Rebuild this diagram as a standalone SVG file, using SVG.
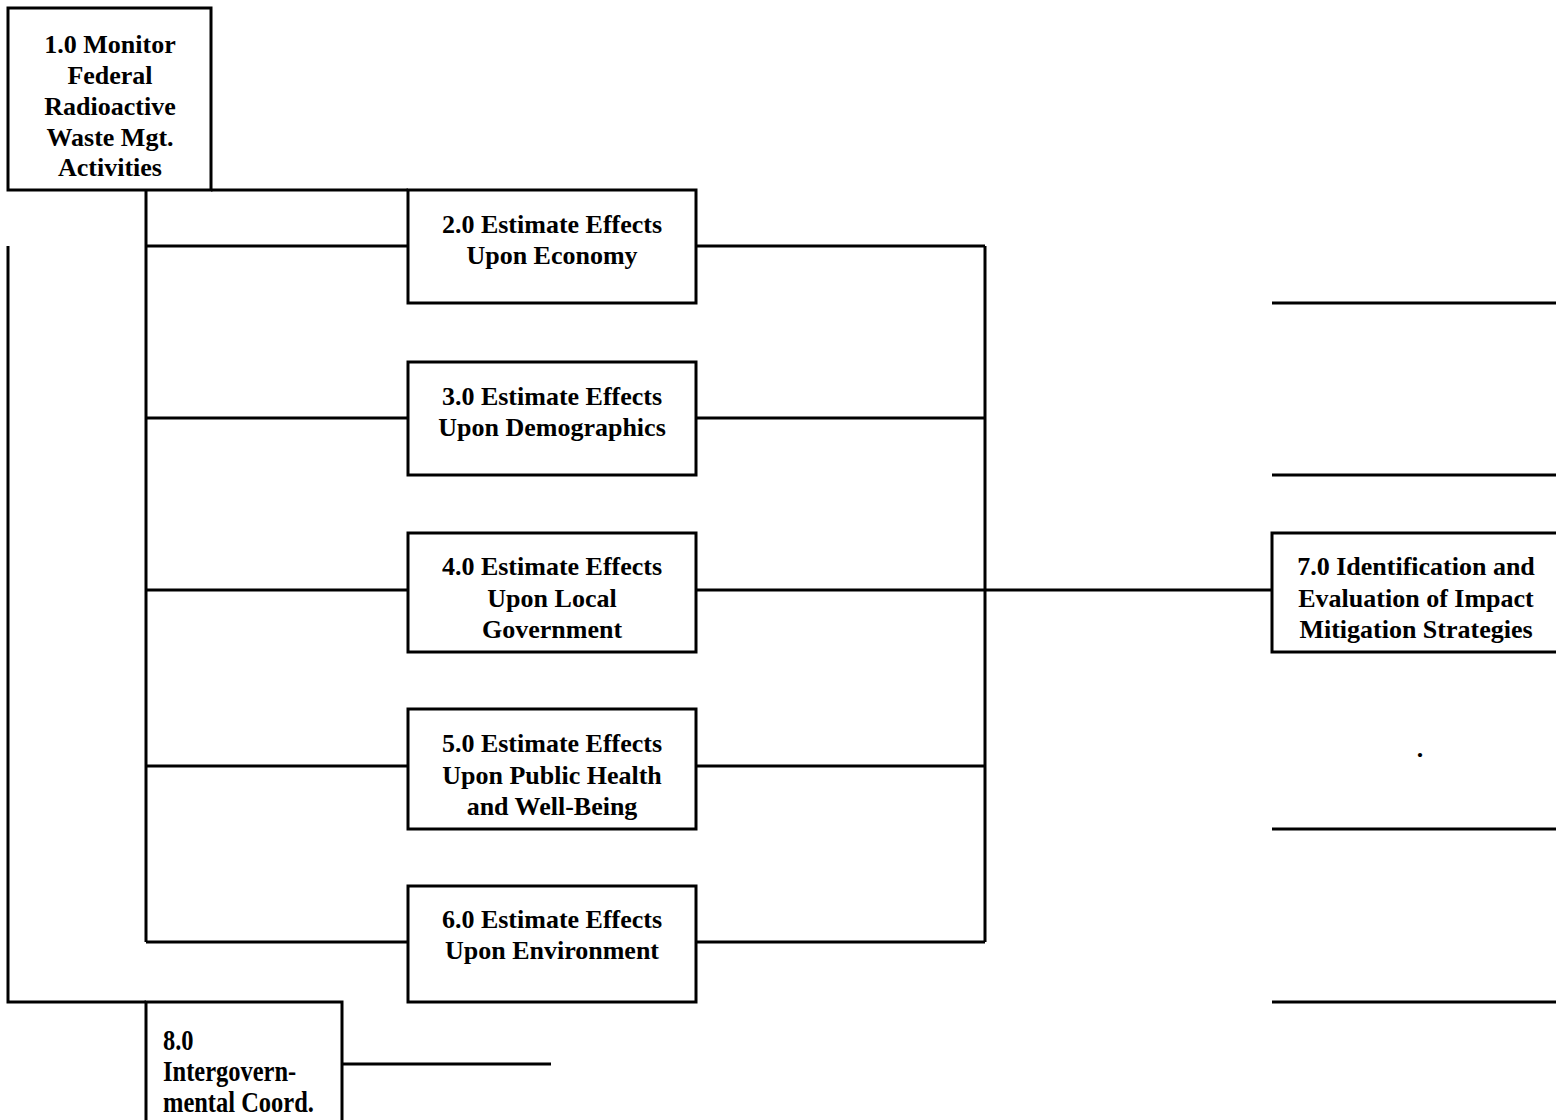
<svg xmlns="http://www.w3.org/2000/svg" width="1556" height="1120" viewBox="0 0 1556 1120">
  <style>
    .box { fill: #ffffff; stroke: #000000; stroke-width: 3; }
    .wire { fill: none; stroke: #000000; stroke-width: 3; }
    .lbl { font-family: "Liberation Serif", "Times New Roman", serif; font-weight: bold; font-size: 26px; fill: #000000; text-anchor: middle; }
    .lbl-narrow { font-size: 29.5px; text-anchor: start; }
  </style>
  <rect width="1556" height="1120" fill="#ffffff"/>

  <!-- connectors -->
  <g id="connectors">
    <!-- distribution bus from 1.0 to the estimate tasks -->
    <polyline class="wire" points="211,190 408,190"/>
    <line class="wire" x1="146" y1="190" x2="146" y2="942"/>
    <line class="wire" x1="146" y1="246" x2="408" y2="246"/>
    <line class="wire" x1="146" y1="418" x2="408" y2="418"/>
    <line class="wire" x1="146" y1="590" x2="408" y2="590"/>
    <line class="wire" x1="146" y1="766" x2="408" y2="766"/>
    <line class="wire" x1="146" y1="942" x2="408" y2="942"/>
    <!-- collection bus into 7.0 -->
    <line class="wire" x1="696" y1="246" x2="985" y2="246"/>
    <line class="wire" x1="696" y1="418" x2="985" y2="418"/>
    <line class="wire" x1="696" y1="590" x2="985" y2="590"/>
    <line class="wire" x1="696" y1="766" x2="985" y2="766"/>
    <line class="wire" x1="696" y1="942" x2="985" y2="942"/>
    <line class="wire" x1="985" y1="246" x2="985" y2="942"/>
    <line class="wire" x1="985" y1="590" x2="1272" y2="590"/>
    <!-- outer loop to 8.0 -->
    <polyline class="wire" points="8,246 8,1002 146,1002"/>
    <line class="wire" x1="342" y1="1064" x2="551" y2="1064"/>
    <!-- right-hand rules -->
    <line class="wire" x1="1272" y1="303" x2="1556" y2="303"/>
    <line class="wire" x1="1272" y1="475" x2="1556" y2="475"/>
    <line class="wire" x1="1272" y1="829" x2="1556" y2="829"/>
    <line class="wire" x1="1272" y1="1002" x2="1556" y2="1002"/>
  </g>

  <g id="n1">
    <rect class="box" x="8" y="8" width="203" height="182"/>
    <text class="lbl" x="110" y="53">1.0 Monitor</text>
    <text class="lbl" x="110" y="84">Federal</text>
    <text class="lbl" x="110" y="115">Radioactive</text>
    <text class="lbl" x="110" y="146">Waste Mgt.</text>
    <text class="lbl" x="110" y="176">Activities</text>
  </g>

  <g id="n2">
    <rect class="box" x="408" y="190" width="288" height="113"/>
    <text class="lbl" x="552" y="233">2.0 Estimate Effects</text>
    <text class="lbl" x="552" y="264">Upon Economy</text>
  </g>

  <g id="n3">
    <rect class="box" x="408" y="362" width="288" height="113"/>
    <text class="lbl" x="552" y="405">3.0 Estimate Effects</text>
    <text class="lbl" x="552" y="436">Upon Demographics</text>
  </g>

  <g id="n4">
    <rect class="box" x="408" y="533" width="288" height="119"/>
    <text class="lbl" x="552" y="575">4.0 Estimate Effects</text>
    <text class="lbl" x="552" y="607">Upon Local</text>
    <text class="lbl" x="552" y="638">Government</text>
  </g>

  <g id="n5">
    <rect class="box" x="408" y="709" width="288" height="120"/>
    <text class="lbl" x="552" y="752">5.0 Estimate Effects</text>
    <text class="lbl" x="552" y="784">Upon Public Health</text>
    <text class="lbl" x="552" y="815">and Well-Being</text>
  </g>

  <g id="n6">
    <rect class="box" x="408" y="886" width="288" height="116"/>
    <text class="lbl" x="552" y="928">6.0 Estimate Effects</text>
    <text class="lbl" x="552" y="959">Upon Environment</text>
  </g>

  <g id="n7">
    <rect class="box" x="1272" y="533" width="290" height="119"/>
    <text class="lbl" x="1416" y="575">7.0 Identification and</text>
    <text class="lbl" x="1416" y="607">Evaluation of Impact</text>
    <text class="lbl" x="1416" y="638">Mitigation Strategies</text>
  </g>

  <g id="n8">
    <rect class="box" x="146" y="1002" width="196" height="125"/>
    <!-- condensed label set in a narrower face -->
    <g transform="translate(163,0) scale(0.83,1)">
      <text class="lbl lbl-narrow" x="0" y="1050">8.0</text>
      <text class="lbl lbl-narrow" x="0" y="1081">Intergovern-</text>
      <text class="lbl lbl-narrow" x="0" y="1112">mental Coord.</text>
    </g>
  </g>

  <text class="lbl" x="1420" y="757">.</text>
</svg>
